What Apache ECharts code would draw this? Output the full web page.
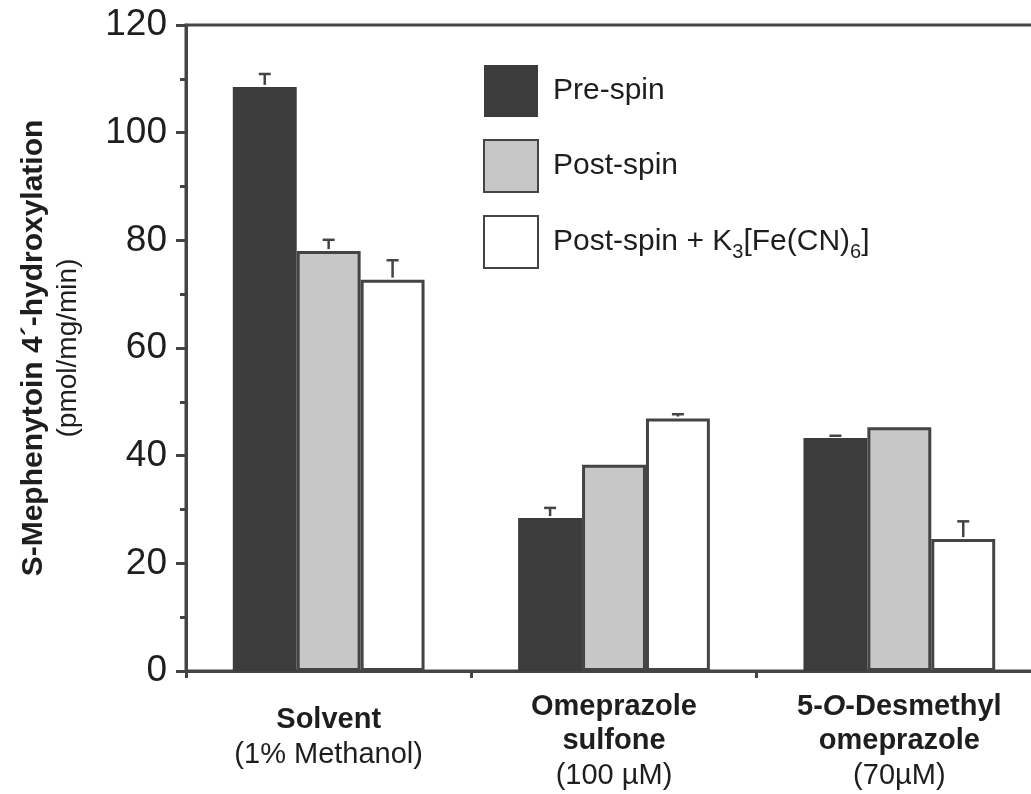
<!DOCTYPE html>
<html>
<head>
<meta charset="utf-8">
<script src="https://cdn.jsdelivr.net/npm/echarts@6/dist/echarts.min.js"></script>
<style>
  html, body { margin: 0; padding: 0; background: #fff; overflow: hidden; width: 1031px; height: 794px; }
  /* the plot frame runs past the right edge of the page, so the container is a little wider */
  #chart { width: 1042px; height: 794px; }
</style>
</head>
<body>
<div id="chart"></div>
<script>
// Treatment groups (name lines bold, concentration line regular)
const categoryNames = [['Solvent'], ['Omeprazole', 'sulfone'], ['5-O-Desmethyl', 'omeprazole']];
const categoryConditions = ['(1% Methanol)', '(100 µM)', '(70µM)'];
const categories = ['Solvent', 'Omeprazole sulfone', '5-O-Desmethyl omeprazole'];

// S-Mephenytoin 4'-hydroxylation, pmol/mg/min
const preSpin = [108.5, 28.4, 43.3];
const preSpinErr = [2.4, 1.9, 0.4];
const postSpin = [78.0, 38.3, 45.3];
const postSpinErr = [2.1, 0, 0];
const postSpinFerri = [72.7, 46.9, 24.5];
const postSpinFerriErr = [3.6, 0.8, 3.3];

const seriesNames = ['Pre-spin', 'Post-spin', 'Post-spin + K3[Fe(CN)6]'];
const yTicks = [0, 20, 40, 60, 80, 100, 120];

const INK = '#444444';
const TEXT = '#1e1e1e';
const FONT = 'Liberation Sans, Arial, Helvetica, sans-serif';
const BAR_FRACTION = 0.224;

const chart = echarts.init(document.getElementById('chart'), null, { renderer: 'canvas' });

function categoryLabel(value, idx) {
  const lines = categoryNames[idx].map(function (line) {
    const m = line.match(/^(.*-)O(-.*)$/);
    if (m) return '{b|' + m[1] + '}{bi|O}{b|' + m[2] + '}';
    return '{b|' + line + '}';
  });
  return lines.join('\n') + '\n{r|' + categoryConditions[idx] + '}';
}

// two-line labels sit a little lower than the three-line ones
const categoryData = categories.map(function (c, i) {
  return categoryNames[i].length === 1
    ? { value: c, textStyle: { padding: [13, 0, 0, 0] } }
    : c;
});

// error bar items: [category, upper value, slot offset, bar value]
const errorData = [];
[[preSpin, preSpinErr], [postSpin, postSpinErr], [postSpinFerri, postSpinFerriErr]].forEach(function (pair, s) {
  pair[0].forEach(function (v, i) {
    if (pair[1][i] > 0) errorData.push([i, v + pair[1][i], s - 1, v]);
  });
});

const barBase = {
  type: 'bar',
  barWidth: (BAR_FRACTION * 100) + '%',
  barGap: '0%',
  animation: false
};

const option = {
  backgroundColor: '#ffffff',
  textStyle: { fontFamily: FONT, color: TEXT },
  grid: {
    left: 186, right: 0, top: 25, bottom: 123,
    show: true, borderColor: INK, borderWidth: 3, backgroundColor: 'transparent'
  },
  legend: {
    orient: 'vertical',
    left: 483, top: 65,
    padding: 0,
    itemWidth: 54, itemHeight: 52, itemGap: 22,
    icon: 'rect',
    data: seriesNames,
    textStyle: {
      fontFamily: FONT, fontSize: 30, color: TEXT, padding: [0, 0, 0, 10],
      rich: {
        n: { fontFamily: FONT, fontSize: 30, color: TEXT },
        s: { fontFamily: FONT, fontSize: 20, color: TEXT, padding: [20, 0, 0, 0] }
      }
    },
    formatter: function (name) {
      if (name.indexOf('K3') < 0) return name;
      return '{n|Post-spin + K}{s|3}{n|[Fe(CN)}{s|6}{n|]}';
    }
  },
  xAxis: {
    type: 'category',
    data: categoryData,
    boundaryGap: true,
    axisLine: { lineStyle: { color: INK, width: 3 } },
    axisTick: { show: true, length: 7, inside: false, lineStyle: { color: INK, width: 3 } },
    axisLabel: {
      interval: 0,
      margin: 19,
      verticalAlign: 'top',
      formatter: categoryLabel,
      rich: {
        b: { fontFamily: FONT, fontSize: 29, fontWeight: 'bold', color: TEXT, lineHeight: 34 },
        bi: { fontFamily: FONT, fontSize: 29, fontWeight: 'bold', fontStyle: 'italic', color: TEXT, lineHeight: 34 },
        r: { fontFamily: FONT, fontSize: 29, color: TEXT, lineHeight: 35 }
      }
    },
    splitLine: { show: false }
  },
  yAxis: {
    type: 'value',
    min: yTicks[0],
    max: yTicks[yTicks.length - 1],
    interval: yTicks[1] - yTicks[0],
    name: '{t|S-Mephenytoin 4\u00B4-hydroxylation}\n{u|(pmol/mg/min)}',
    nameLocation: 'middle',
    nameRotate: 90,
    nameGap: 101,
    nameTextStyle: {
      rich: {
        t: { fontFamily: FONT, fontSize: 30, fontWeight: 'bold', color: TEXT, lineHeight: 34 },
        u: { fontFamily: FONT, fontSize: 28, color: TEXT, lineHeight: 34 }
      }
    },
    axisLine: { show: true, lineStyle: { color: INK, width: 3 } },
    axisTick: { show: true, length: 10, inside: false, lineStyle: { color: INK, width: 3 } },
    minorTick: { show: true, splitNumber: 2, length: 6, lineStyle: { color: INK, width: 3 } },
    axisLabel: { fontFamily: FONT, fontSize: 37, color: TEXT, margin: 19 },
    splitLine: { show: false }
  },
  series: [
    Object.assign({}, barBase, {
      name: seriesNames[0], data: preSpin,
      itemStyle: { color: '#3c3c3c', borderColor: '#3c3c3c', borderWidth: 0 }
    }),
    Object.assign({}, barBase, {
      name: seriesNames[1], data: postSpin,
      itemStyle: { color: '#c7c7c7', borderColor: INK, borderWidth: 3 }
    }),
    Object.assign({}, barBase, {
      name: seriesNames[2], data: postSpinFerri,
      itemStyle: { color: '#ffffff', borderColor: INK, borderWidth: 3 }
    }),
    {
      type: 'custom',
      name: 'error',
      data: errorData,
      z: 5,
      animation: false,
      silent: true,
      encode: { x: 0, y: 1 },
      renderItem: function (params, api) {
        const top = api.coord([api.value(0), api.value(1)]);
        const bottom = api.coord([api.value(0), api.value(3)]);
        const bw = api.size([1, 0])[0] * BAR_FRACTION;
        const x = top[0] + api.value(2) * bw;
        const style = { stroke: INK, lineWidth: 2.5 };
        return {
          type: 'group',
          children: [
            { type: 'line', shape: { x1: x, y1: bottom[1] - 2, x2: x, y2: top[1] }, style: style },
            { type: 'line', shape: { x1: x - 6, y1: top[1], x2: x + 6, y2: top[1] }, style: style }
          ]
        };
      }
    }
  ]
};

chart.setOption(option);
</script>
</body>
</html>
